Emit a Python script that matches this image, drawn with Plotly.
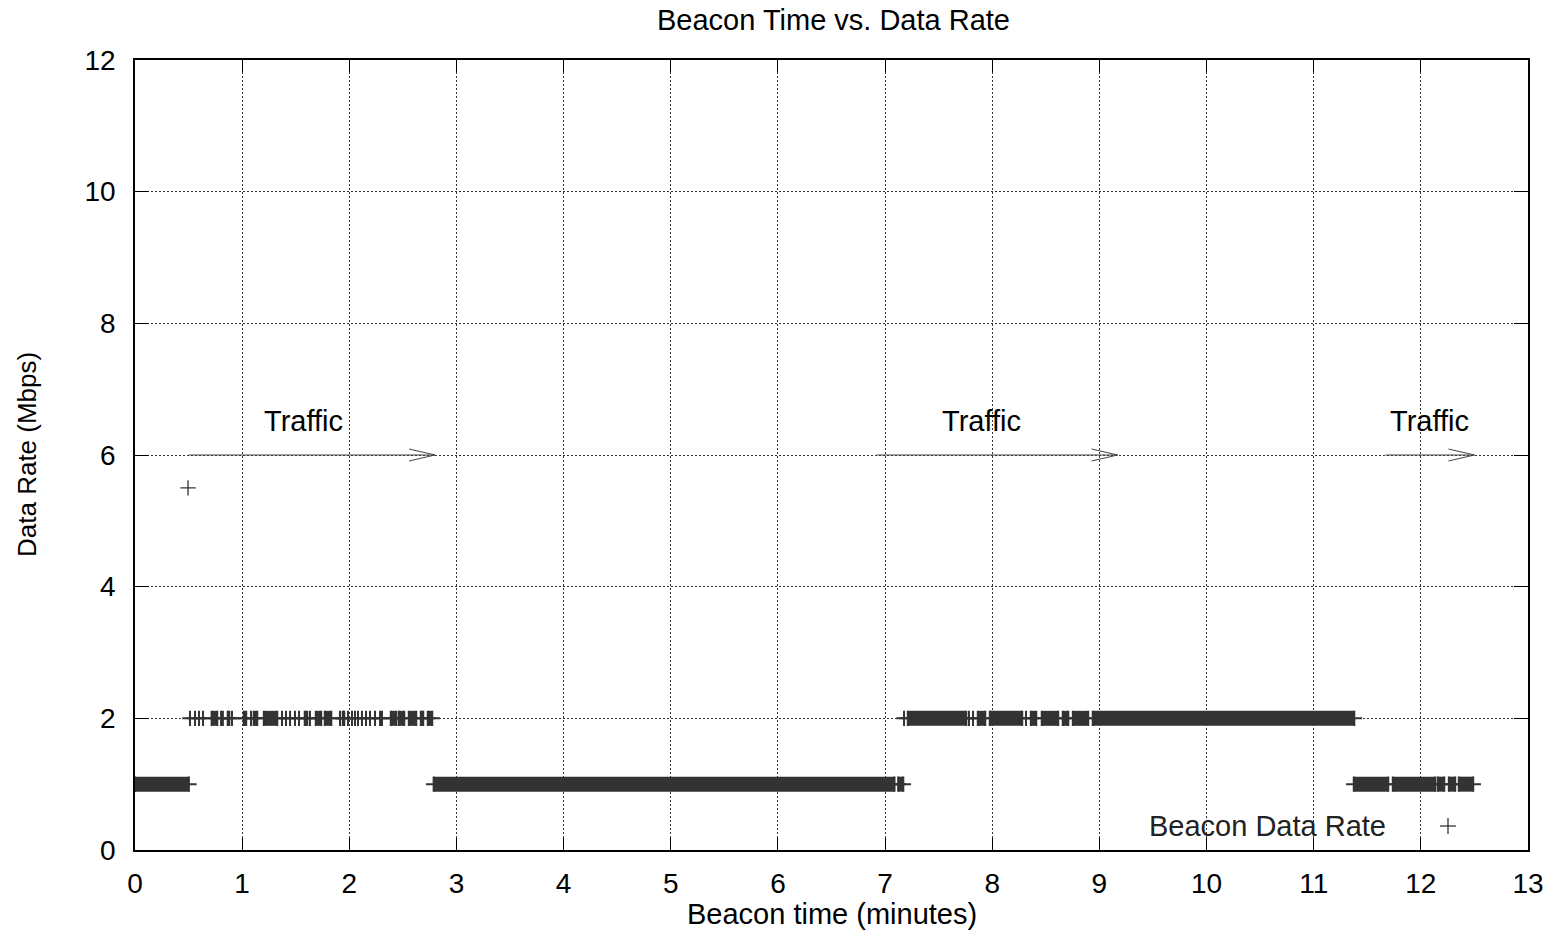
import plotly.graph_objects as go

# ---------------- data ----------------
# Beacon runs at 2 Mbps: start / end times (minutes); equal start & end = single beacon
rate2_run_start = [0.513, 0.560, 0.597, 0.635, 0.715, 0.803, 0.820, 0.865, 0.905,
                   1.015, 1.083, 1.108, 1.202, 1.372, 1.409, 1.447, 1.493, 1.531,
                   1.584, 1.633, 1.687, 1.771, 1.913, 1.939, 1.988, 2.025, 2.053,
                   2.081, 2.118, 2.156, 2.193, 2.240, 2.287, 2.305, 2.387, 2.461,
                   2.555, 2.667, 2.732,
                   7.177, 7.212, 7.783, 7.821, 7.865, 7.977, 8.315, 8.360, 8.462,
                   8.658, 8.752, 8.938]
rate2_run_end = [0.513, 0.560, 0.597, 0.635, 0.768, 0.803, 0.820, 0.880, 0.905,
                 1.038, 1.083, 1.141, 1.328, 1.372, 1.409, 1.447, 1.493, 1.531,
                 1.608, 1.633, 1.738, 1.832, 1.913, 1.953, 1.988, 2.025, 2.053,
                 2.081, 2.118, 2.156, 2.193, 2.240, 2.287, 2.305, 2.438, 2.513,
                 2.625, 2.690, 2.774,
                 7.177, 7.758, 7.783, 7.821, 7.935, 8.280, 8.315, 8.411, 8.616,
                 8.710, 8.896, 11.379]

# Beacon runs at 1 Mbps
rate1_run_start = [0.000, 2.787, 7.122, 11.374, 11.738, 12.158, 12.261, 12.354]
rate1_run_end = [0.503, 7.088, 7.170, 11.696, 12.135, 12.219, 12.321, 12.489]

rate_levels = [2, 1]

# Isolated beacon at 5.5 Mbps
outlier_x = [0.495]
outlier_y = [5.5]

# "Traffic" annotations with arrows
arrow_x0 = [0.50, 6.92, 11.67]
arrow_x1 = [2.80, 9.17, 12.50]
arrow_y = 6
traffic_label_x = [1.57, 7.90, 12.08]
traffic_label_y = 6.52
traffic_label = "Traffic"

x_ticks = list(range(0, 14))
y_ticks = list(range(0, 13, 2))

title_text = "Beacon Time vs. Data Rate"
x_title = "Beacon time (minutes)"
y_title = "Data Rate (Mbps)"
legend_text = "Beacon Data Rate"

# ---------------- layout geometry ----------------
W, H = 1558, 931
ML, MR, MT, MB = 135, 30, 60, 81
PW = W - ML - MR
PH = H - MT - MB
XR = (0, 13)
YR = (0, 12)
FONT = "Liberation Sans, Arial, Helvetica, sans-serif"
INK = "#333333"
TXT = 29


def px_to_paper_x(px):
    return (px - ML) / PW


def px_to_paper_y(py):
    return (H - MB - py) / PH


# ---------------- traces ----------------
runs = {2: (rate2_run_start, rate2_run_end), 1: (rate1_run_start, rate1_run_end)}
blk_x, blk_y, mk_x, mk_y = [], [], [], []
for lvl in rate_levels:
    starts, ends = runs[lvl]
    for s, e in zip(starts, ends):
        if e > s:
            blk_x += [s, e, None]
            blk_y += [lvl, lvl, None]
            mk_x += [s, e]
            mk_y += [lvl, lvl]
        else:
            mk_x.append(s)
            mk_y.append(lvl)

fig = go.Figure()
fig.add_trace(go.Scatter(
    x=blk_x, y=blk_y, mode="lines",
    line=dict(color=INK, width=15), hoverinfo="skip", showlegend=False))
fig.add_trace(go.Scatter(
    x=mk_x, y=mk_y, mode="markers",
    marker=dict(symbol="cross-thin", size=11, line=dict(color=INK, width=2)),
    showlegend=False, name=legend_text))
fig.add_trace(go.Scatter(
    x=outlier_x, y=outlier_y, mode="markers",
    marker=dict(symbol="cross-thin", size=11, line=dict(color=INK, width=1.3)),
    showlegend=False, name=legend_text))

# ---------------- shapes (arrows, legend) ----------------
shapes = []
xpx = PW / (XR[1] - XR[0])
ypx = PH / (YR[1] - YR[0])
head_len = 26 / xpx
head_half = 6 / ypx
for x0, x1 in zip(arrow_x0, arrow_x1):
    shapes.append(dict(type="line", xref="x", yref="y", x0=x0, x1=x1, y0=arrow_y, y1=arrow_y,
                       line=dict(color="#444444", width=1)))
    for sgn in (1, -1):
        shapes.append(dict(type="line", xref="x", yref="y", x0=x1 - head_len, x1=x1,
                           y0=arrow_y + sgn * head_half, y1=arrow_y,
                           line=dict(color="#444444", width=1)))

# legend background box (hides grid behind key)
shapes.append(dict(type="rect", xref="paper", yref="paper",
                   x0=px_to_paper_x(1097), x1=px_to_paper_x(1486),
                   y0=px_to_paper_y(838), y1=px_to_paper_y(812),
                   fillcolor="white", line=dict(width=0), layer="between"))
# legend sample '+'
lx, ly = 1448, 826
shapes.append(dict(type="line", xref="paper", yref="paper",
                   x0=px_to_paper_x(lx - 8), x1=px_to_paper_x(lx + 8),
                   y0=px_to_paper_y(ly), y1=px_to_paper_y(ly),
                   line=dict(color=INK, width=1.3)))
shapes.append(dict(type="line", xref="paper", yref="paper",
                   x0=px_to_paper_x(lx), x1=px_to_paper_x(lx),
                   y0=px_to_paper_y(ly - 8), y1=px_to_paper_y(ly + 8),
                   line=dict(color=INK, width=1.3)))

# ---------------- annotations ----------------
annotations = []
for tx in traffic_label_x:
    annotations.append(dict(x=tx, y=traffic_label_y, xref="x", yref="y", text=traffic_label,
                            showarrow=False, font=dict(family=FONT, size=TXT, color="black"),
                            xanchor="center", yanchor="middle"))
annotations.append(dict(x=px_to_paper_x(833), y=px_to_paper_y(20), xref="paper", yref="paper",
                        text=title_text, showarrow=False,
                        font=dict(family=FONT, size=TXT, color="black"),
                        xanchor="center", yanchor="middle"))
annotations.append(dict(x=px_to_paper_x(832), y=px_to_paper_y(914), xref="paper", yref="paper",
                        text=x_title, showarrow=False,
                        font=dict(family=FONT, size=TXT, color="black"),
                        xanchor="center", yanchor="middle"))
annotations.append(dict(x=px_to_paper_x(27), y=px_to_paper_y(455), xref="paper", yref="paper",
                        text=y_title, showarrow=False, textangle=-90,
                        font=dict(family=FONT, size=26, color="black"),
                        xanchor="center", yanchor="middle"))
annotations.append(dict(x=px_to_paper_x(1388), y=px_to_paper_y(826), xref="paper", yref="paper",
                        text=legend_text, showarrow=False,
                        font=dict(family=FONT, size=TXT, color="#222222"),
                        xanchor="right", yanchor="middle"))

axis_common = dict(
    showline=True, linecolor="black", linewidth=1.5, mirror="ticks",
    ticks="inside", tickcolor="black", tickwidth=1.2,
    showgrid=True, gridcolor="#333333", gridwidth=1, griddash="2px,2px",
    zeroline=False, tickfont=dict(family=FONT, size=28, color="black"),
)

fig.update_layout(
    width=W, height=H,
    margin=dict(l=ML, r=MR, t=MT, b=MB, pad=0),
    paper_bgcolor="white", plot_bgcolor="white",
    showlegend=False,
    shapes=shapes, annotations=annotations,
    xaxis=dict(range=list(XR), tickvals=x_ticks, ticktext=[str(v) for v in x_ticks],
               ticklen=12, ticklabelstandoff=8, **axis_common),
    yaxis=dict(range=list(YR), tickvals=y_ticks, ticktext=[str(v) for v in y_ticks],
               ticklen=14, ticklabelstandoff=12, **axis_common),
)

fig.write_html("out.html")
